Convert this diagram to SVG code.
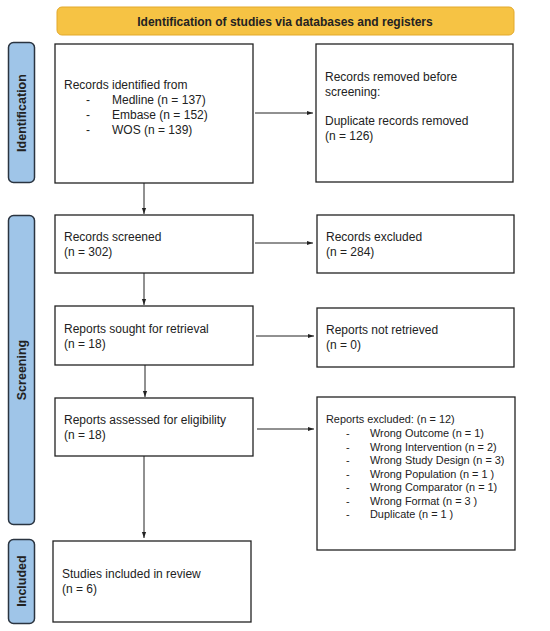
<svg xmlns="http://www.w3.org/2000/svg" width="550" height="631" viewBox="0 0 550 631">
<style>
text{font-family:"Liberation Sans",Arial,sans-serif;fill:#222}
.t{font-size:12px}
.s{font-size:10.9px}
.b{font-weight:bold}
.box{fill:#fff;stroke:#222;stroke-width:1.3}
.bar{fill:#9fc5e8;stroke:#2a3440;stroke-width:1.5}
.c{stroke:#222;stroke-width:1;fill:none;marker-end:url(#ah)}
</style>
<defs>
<marker id="ah" viewBox="0 0 10 10" refX="10" refY="5" markerWidth="6" markerHeight="6" markerUnits="userSpaceOnUse" orient="auto">
<path d="M0,1.5 L10,5 L0,8.5 z" fill="#222"/>
</marker>
</defs>
<rect width="550" height="631" fill="#fff"/>
<g id="header">
<rect x="57" y="7" width="457" height="28" rx="5" fill="#f6c344" stroke="#e3a92a" stroke-width="1"/>
<text x="285" y="25.5" class="b" font-size="12" text-anchor="middle">Identification of studies via databases and registers</text>
</g>
<g id="bar-identification">
<rect class="bar" x="8.5" y="42.5" width="26" height="140" rx="5"/>
<text class="b" font-size="12.5" text-anchor="middle" transform="translate(26,113) rotate(-90)">Identification</text>
</g>
<g id="bar-screening">
<rect class="bar" x="8.5" y="215.5" width="26" height="309" rx="5"/>
<text class="b" font-size="12.5" text-anchor="middle" transform="translate(26,370) rotate(-90)">Screening</text>
</g>
<g id="bar-included">
<rect class="bar" x="8.5" y="539.5" width="26" height="84" rx="5"/>
<text class="b" font-size="12.5" text-anchor="middle" transform="translate(26,581) rotate(-90)">Included</text>
</g>
<g id="n-identified">
<rect class="box" x="55" y="44" width="198" height="139"/>
<text class="t" x="64" y="89">Records identified from</text>
<text class="t" x="86" y="104">-</text><text class="t" x="112" y="104">Medline (n = 137)</text>
<text class="t" x="86" y="119">-</text><text class="t" x="112" y="119">Embase (n = 152)</text>
<text class="t" x="86" y="134">-</text><text class="t" x="112" y="134">WOS (n = 139)</text>
</g>
<g id="n-removed">
<rect class="box" x="316" y="44" width="197" height="138"/>
<text class="t" x="325" y="81">Records removed before</text>
<text class="t" x="325" y="96">screening:</text>
<text class="t" x="325" y="125">Duplicate records removed</text>
<text class="t" x="325" y="140">(n = 126)</text>
</g>
<g id="n-screened">
<rect class="box" x="55" y="215" width="198" height="58"/>
<text class="t" x="64" y="241">Records screened</text>
<text class="t" x="64" y="256">(n = 302)</text>
</g>
<g id="n-excluded">
<rect class="box" x="317" y="215" width="197" height="58"/>
<text class="t" x="326" y="241">Records excluded</text>
<text class="t" x="326" y="256">(n = 284)</text>
</g>
<g id="n-sought">
<rect class="box" x="55" y="306" width="198" height="59"/>
<text class="t" x="64" y="333">Reports sought for retrieval</text>
<text class="t" x="64" y="348">(n = 18)</text>
</g>
<g id="n-notretrieved">
<rect class="box" x="317" y="308" width="197" height="59"/>
<text class="t" x="326" y="334">Reports not retrieved</text>
<text class="t" x="326" y="349">(n = 0)</text>
</g>
<g id="n-assessed">
<rect class="box" x="55" y="398" width="198" height="58"/>
<text class="t" x="64" y="424">Reports assessed for eligibility</text>
<text class="t" x="64" y="439">(n = 18)</text>
</g>
<g id="n-reportsexcluded">
<rect class="box" x="317" y="397" width="198" height="153"/>
<text class="s" x="326" y="423">Reports excluded: (n = 12)</text>
<text class="s" x="346" y="437">-</text><text class="s" x="370" y="437">Wrong Outcome (n = 1)</text>
<text class="s" x="346" y="450.5">-</text><text class="s" x="370" y="450.5">Wrong Intervention (n = 2)</text>
<text class="s" x="346" y="464">-</text><text class="s" x="370" y="464">Wrong Study Design (n = 3)</text>
<text class="s" x="346" y="477.5">-</text><text class="s" x="370" y="477.5">Wrong Population (n = 1 )</text>
<text class="s" x="346" y="491">-</text><text class="s" x="370" y="491">Wrong Comparator (n = 1)</text>
<text class="s" x="346" y="504.5">-</text><text class="s" x="370" y="504.5">Wrong Format (n = 3 )</text>
<text class="s" x="346" y="518">-</text><text class="s" x="370" y="518">Duplicate (n = 1 )</text>
</g>
<g id="n-included">
<rect class="box" x="53" y="541" width="198" height="81"/>
<text class="t" x="62" y="578">Studies included in review</text>
<text class="t" x="62" y="593">(n = 6)</text>
</g>
<g id="connectors">
<line class="c" x1="255" y1="113" x2="313" y2="113"/>
<line class="c" x1="144" y1="183" x2="144" y2="214"/>
<line class="c" x1="255" y1="243" x2="313" y2="243"/>
<line class="c" x1="144" y1="273" x2="144" y2="305"/>
<line class="c" x1="256" y1="336" x2="314" y2="336"/>
<line class="c" x1="145" y1="365" x2="145" y2="397"/>
<line class="c" x1="257" y1="429" x2="314" y2="429"/>
<line class="c" x1="144" y1="456" x2="144" y2="538"/>
</g>
</svg>
